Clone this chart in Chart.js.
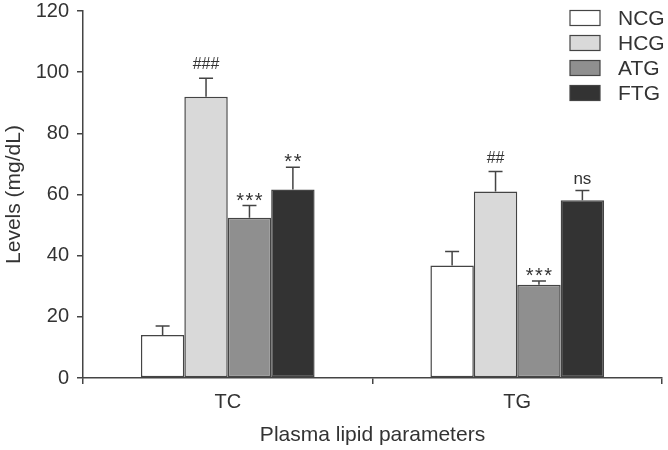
<!DOCTYPE html>
<html>
<head>
<meta charset="utf-8">
<script src="https://cdn.jsdelivr.net/npm/chart.js@4"></script>
<style>
  html, body { margin: 0; padding: 0; background: #fff; }
  #wrap { width: 668px; height: 450px; }
</style>
</head>
<body>
<div id="wrap"><canvas id="grafico"></canvas></div>
<script>
// dati
const categories = ['TC', 'TG'];
const groups = ['NCG', 'HCG', 'ATG', 'FTG'];
const ncg = [14.1, 36.8];
const hcg = [92.0, 61.0];
const atg = [52.4, 30.5];
const ftg = [61.6, 58.1];
const ncgErr = [2.9, 4.6];
const hcgErr = [6.0, 6.5];
const atgErr = [4.0, 1.2];
const ftgErr = [7.3, 3.2];
const marks = [
    ['', ''],
    ['###', '##'],
    ['***', '***'],
    ['**', 'ns']
];
const yTicks = [0, 20, 40, 60, 80, 100, 120];

const fills = ['#ffffff', '#d9d9d9', '#8f8f8f', '#333333'];
const values = [ncg, hcg, atg, ftg];
const errors = [ncgErr, hcgErr, atgErr, ftgErr];
const ink = '#444444';
const FONT = "'Liberation Sans', Arial, sans-serif";

Chart.defaults.font.family = FONT;
Chart.defaults.color = '#333';

// barre d'errore + asterischi + legenda
const extras = {
    id: 'extras',
    afterDatasetsDraw(chart) {
        const c = chart.ctx;
        const y = chart.scales.y;
        c.save();
        chart.data.datasets.forEach((ds, i) => {
            const meta = chart.getDatasetMeta(i);
            meta.data.forEach((bar, j) => {
                const top = y.getPixelForValue(values[i][j] + errors[i][j]);
                c.strokeStyle = ink;
                c.lineWidth = 1.5;
                c.beginPath();
                c.moveTo(bar.x, bar.y);
                c.lineTo(bar.x, top);
                c.moveTo(bar.x - 7, top);
                c.lineTo(bar.x + 7, top);
                c.stroke();
                const m = marks[i][j];
                if (!m) return;
                c.fillStyle = '#333';
                c.textAlign = 'center';
                c.textBaseline = 'alphabetic';
                if (m[0] === '*') {
                    c.font = '20px ' + FONT;
                    c.letterSpacing = '1.5px';
                    c.fillText(m, bar.x + 0.75, top + 1);
                } else if (m[0] === '#') {
                    c.font = '16px ' + FONT;
                    c.letterSpacing = '0px';
                    c.fillText(m, bar.x, top - 9);
                } else {
                    c.font = '17px ' + FONT;
                    c.letterSpacing = '0px';
                    c.fillText(m, bar.x, top - 7);
                }
            });
        });
        c.letterSpacing = '0px';
        // legenda
        c.font = '21px ' + FONT;
        c.textAlign = 'left';
        c.textBaseline = 'middle';
        groups.forEach((g, i) => {
            const cy = 18 + i * 25;
            c.fillStyle = fills[i];
            c.fillRect(570, cy - 7.5, 30, 15);
            c.strokeStyle = ink;
            c.lineWidth = 1.2;
            c.strokeRect(570, cy - 7.5, 30, 15);
            c.fillStyle = '#333';
            c.fillText(g, 618, cy + 1);
        });
        c.restore();
    }
};

new Chart(document.getElementById('grafico'), {
    type: 'bar',
    data: {
        labels: categories,
        datasets: groups.map((g, i) => ({
            label: g,
            data: values[i],
            backgroundColor: fills[i],
            borderColor: ink,
            borderWidth: 1.5,
            borderSkipped: false,
            categoryPercentage: 0.6,
            barPercentage: 1.0
        }))
    },
    options: {
        responsive: true,
        maintainAspectRatio: false,
        animation: false,
        layout: { padding: { top: 0, right: 6, left: 0, bottom: 0 } },
        plugins: {
            legend: { display: false },
            tooltip: { enabled: false }
        },
        scales: {
            x: {
                afterFit: s => { s.height = 72; },
                grid: { display: true, drawOnChartArea: false, offset: true, tickLength: 6, color: ink, lineWidth: 1.5 },
                border: { color: ink, width: 1.5 },
                ticks: { font: { size: 20 }, color: '#333', padding: 6 },
                title: { display: true, text: 'Plasma lipid parameters', font: { size: 21 }, color: '#333', padding: { top: 8, bottom: 2 } }
            },
            y: {
                min: 0,
                max: 120,
                afterFit: s => { s.width = 83; s.paddingTop = 11; },
                afterBuildTicks: s => { s.ticks = yTicks.map(v => ({ value: v })); },
                grid: { display: true, drawOnChartArea: false, tickLength: 6, color: ink, lineWidth: 1.5 },
                border: { color: ink, width: 1.5 },
                ticks: { font: { size: 20 }, color: '#333', padding: 8 },
                title: { display: true, text: 'Levels (mg/dL)', font: { size: 21 }, color: '#333', padding: { top: 2, bottom: 0 } }
            }
        }
    },
    plugins: [extras]
});
</script>
</body>
</html>
